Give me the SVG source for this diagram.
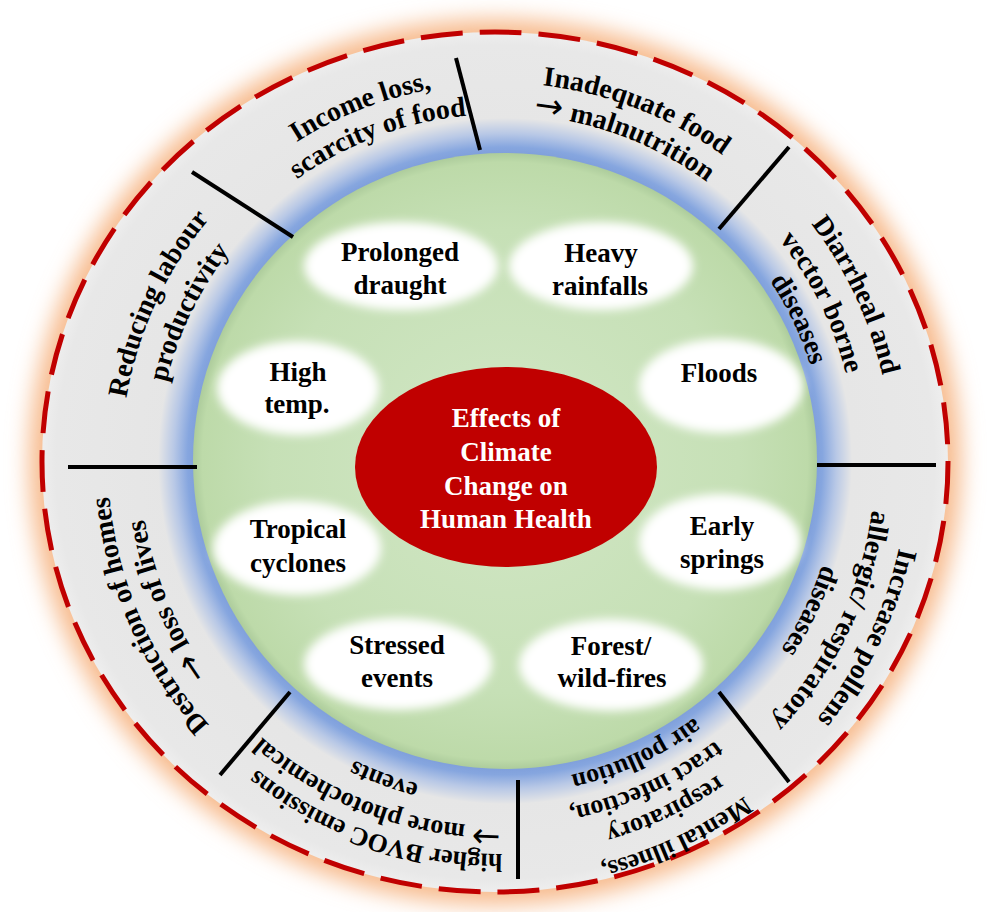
<svg xmlns="http://www.w3.org/2000/svg" width="992" height="912" viewBox="0 0 992 912">
  <style>
    .lbl { font-family: "Liberation Serif", "Times New Roman", serif; font-weight: bold; font-size: 27px; fill: #000; text-anchor: middle; }
    .ctr { fill: #fff; }
    .ring { font-family: "Liberation Serif", "Times New Roman", serif; font-weight: bold; font-size: 28px; fill: #000; }
    .ring.sm { font-size: 26px; }
    .arw { font-family: "DejaVu Sans", sans-serif; font-weight: normal; font-size: 34px; }
    .div { stroke: #000; stroke-width: 4; fill: none; }
    .bubble { fill: #fff; filter: url(#soft); }
  </style>
  <defs>
    <filter id="glow" x="-10%" y="-10%" width="120%" height="120%">
      <feGaussianBlur stdDeviation="11"/>
    </filter>
    <filter id="soft" x="-20%" y="-30%" width="140%" height="160%">
      <feGaussianBlur stdDeviation="5"/>
    </filter>
    <radialGradient id="blueBand" cx="0.5" cy="0.5" r="0.5">
      <stop offset="0.88" stop-color="#7a9ad8"/>
      <stop offset="0.915" stop-color="#86a6df"/>
      <stop offset="0.955" stop-color="#b8c8e6"/>
      <stop offset="1" stop-color="#e6e6e6"/>
    </radialGradient>
    <radialGradient id="greenDisc" cx="0.5" cy="0.5" r="0.5">
      <stop offset="0" stop-color="#d2e7c6"/>
      <stop offset="0.75" stop-color="#c6e0b6"/>
      <stop offset="0.97" stop-color="#bddaa9"/>
      <stop offset="1" stop-color="#adcc9c"/>
    </radialGradient>
    <radialGradient id="grayRing" cx="0.5" cy="0.5" r="0.5">
      <stop offset="0.7" stop-color="#e5e5e5"/>
      <stop offset="0.97" stop-color="#e8e8e8"/>
      <stop offset="1" stop-color="#eeeeee"/>
    </radialGradient>
    <!-- clockwise half-circle baselines; midpoint sits at the top (0,-r) -->
    <path id="r321" d="M -321 0 A 321 321 0 0 1 321 0"/>
    <path id="r325" d="M -325 0 A 325 325 0 0 1 325 0"/>
    <path id="r332" d="M -332 0 A 332 332 0 0 1 332 0"/>
    <path id="r338" d="M -338 0 A 338 338 0 0 1 338 0"/>
    <path id="r343" d="M -343 0 A 343 343 0 0 1 343 0"/>
    <path id="r348" d="M -348 0 A 348 348 0 0 1 348 0"/>
    <path id="r352" d="M -352 0 A 352 352 0 0 1 352 0"/>
    <path id="r357" d="M -357 0 A 357 357 0 0 1 357 0"/>
    <path id="r360" d="M -360 0 A 360 360 0 0 1 360 0"/>
    <path id="r364" d="M -364 0 A 364 364 0 0 1 364 0"/>
    <path id="r375" d="M -375 0 A 375 375 0 0 1 375 0"/>
    <path id="r379" d="M -379 0 A 379 379 0 0 1 379 0"/>
    <path id="r381" d="M -381 0 A 381 381 0 0 1 381 0"/>
    <path id="r392" d="M -392 0 A 392 392 0 0 1 392 0"/>
    <path id="r408" d="M -408 0 A 408 408 0 0 1 408 0"/>
    <path id="r414" d="M -414 0 A 414 414 0 0 1 414 0"/>
  </defs>

  <rect width="992" height="912" fill="#fff"/>

  <!-- outer ring: orange halo, grey band, dashed rim -->
  <g id="outer-ring">
    <ellipse cx="495" cy="462" rx="466" ry="443" fill="#f7bb8e" filter="url(#glow)"/>
    <ellipse cx="495" cy="462" rx="453" ry="430" fill="url(#grayRing)"/>
    <ellipse cx="495" cy="462" rx="453" ry="430" fill="none" stroke="#c00000" stroke-width="5" stroke-dasharray="42 17"/>
  </g>

  <!-- blue band and green disc -->
  <g id="inner-disc">
    <ellipse cx="505" cy="461" rx="347" ry="343" fill="url(#blueBand)"/>
    <ellipse cx="505" cy="461" rx="312" ry="308" fill="url(#greenDisc)"/>
  </g>

  <!-- sector dividers -->
  <g id="connectors">
    <line class="div" x1="293" y1="237" x2="192" y2="172"/>
    <line class="div" x1="480" y1="150" x2="456" y2="58"/>
    <line class="div" x1="719" y1="229" x2="789" y2="147"/>
    <line class="div" x1="817" y1="465" x2="936" y2="465"/>
    <line class="div" x1="719" y1="692" x2="789" y2="782"/>
    <line class="div" x1="518" y1="780" x2="518" y2="879"/>
    <line class="div" x1="290" y1="692" x2="220" y2="775"/>
    <line class="div" x1="68" y1="467" x2="197" y2="467"/>
  </g>

  <!-- climate events -->
  <g id="prolonged-draught">
    <ellipse class="bubble" cx="401" cy="266" rx="97" ry="44"/>
    <text class="lbl" x="400" y="261">Prolonged</text>
    <text class="lbl" x="400" y="294">draught</text>
  </g>
  <g id="heavy-rainfalls">
    <ellipse class="bubble" cx="601" cy="266" rx="92" ry="44"/>
    <text class="lbl" x="601" y="262">Heavy</text>
    <text class="lbl" x="600" y="295">rainfalls</text>
  </g>
  <g id="high-temp">
    <ellipse class="bubble" cx="298" cy="388" rx="81" ry="47"/>
    <text class="lbl" x="298" y="381">High</text>
    <text class="lbl" x="297" y="413">temp.</text>
  </g>
  <g id="floods">
    <ellipse class="bubble" cx="721" cy="386" rx="82" ry="47"/>
    <text class="lbl" x="719" y="382">Floods</text>
  </g>
  <g id="tropical-cyclones">
    <ellipse class="bubble" cx="297" cy="548" rx="84" ry="47"/>
    <text class="lbl" x="298" y="538">Tropical</text>
    <text class="lbl" x="298" y="572">cyclones</text>
  </g>
  <g id="early-springs">
    <ellipse class="bubble" cx="720" cy="542" rx="81" ry="48"/>
    <text class="lbl" x="722" y="535">Early</text>
    <text class="lbl" x="722" y="568">springs</text>
  </g>
  <g id="stressed-events">
    <ellipse class="bubble" cx="398" cy="664" rx="94" ry="46"/>
    <text class="lbl" x="397" y="654">Stressed</text>
    <text class="lbl" x="397" y="687">events</text>
  </g>
  <g id="forest-wild-fires">
    <ellipse class="bubble" cx="611" cy="665" rx="92" ry="46"/>
    <text class="lbl" x="611" y="655">Forest/</text>
    <text class="lbl" x="612" y="687">wild-fires</text>
  </g>

  <!-- central topic -->
  <g id="center">
    <ellipse cx="506" cy="467" rx="151" ry="100" fill="#c00000"/>
    <text class="lbl ctr" x="506" y="427">Effects of</text>
    <text class="lbl ctr" x="506" y="461">Climate</text>
    <text class="lbl ctr" x="506" y="495">Change on</text>
    <text class="lbl ctr" x="506" y="528">Human Health</text>
  </g>

  <!-- health effects set on arcs round the ring -->
  <g id="income-loss" transform="translate(500 462)">
    <text class="ring" transform="rotate(-21.4)"><textPath href="#r379" startOffset="50%" text-anchor="middle">Income loss,</textPath></text>
    <text class="ring" transform="rotate(-20.6)"><textPath href="#r348" startOffset="50%" text-anchor="middle">scarcity of food</textPath></text>
  </g>
  <g id="inadequate-food" transform="translate(500 462)">
    <text class="ring" transform="rotate(21.2)"><textPath href="#r379" startOffset="50%" text-anchor="middle">Inadequate food</textPath></text>
    <text class="ring" transform="rotate(21)"><textPath href="#r348" startOffset="50%" text-anchor="middle"><tspan class="arw">→</tspan> malnutrition</textPath></text>
  </g>
  <g id="diarrheal" transform="translate(500 462)">
    <text class="ring" transform="rotate(64.9)"><textPath href="#r392" startOffset="50%" text-anchor="middle">Diarrheal  and</textPath></text>
    <text class="ring" transform="rotate(63.6)"><textPath href="#r357" startOffset="50%" text-anchor="middle">vector borne</textPath></text>
    <text class="ring" transform="rotate(64.4)"><textPath href="#r325" startOffset="50%" text-anchor="middle">diseases</textPath></text>
  </g>
  <g id="increase-pollens" transform="translate(500 462)">
    <text class="ring" transform="rotate(115.6)"><textPath href="#r408" startOffset="50%" text-anchor="middle">Increase pollens</textPath></text>
    <text class="ring" transform="rotate(115.6)"><textPath href="#r375" startOffset="50%" text-anchor="middle">allergic/ respiratory</textPath></text>
    <text class="ring" transform="rotate(115.7)"><textPath href="#r338" startOffset="50%" text-anchor="middle">diseases</textPath></text>
  </g>
  <g id="mental-illness" transform="translate(500 462)">
    <text class="ring sm" transform="rotate(154.9)"><textPath href="#r414" startOffset="50%" text-anchor="middle">Mental illness,</textPath></text>
    <text class="ring sm" transform="rotate(154.6)"><textPath href="#r381" startOffset="50%" text-anchor="middle">respiratory</textPath></text>
    <text class="ring sm" transform="rotate(155.5)"><textPath href="#r352" startOffset="50%" text-anchor="middle">tract infection,</textPath></text>
    <text class="ring sm" transform="rotate(155)"><textPath href="#r321" startOffset="50%" text-anchor="middle">air pollution</textPath></text>
  </g>
  <g id="bvoc-emissions" transform="translate(500 462)">
    <text class="ring sm" transform="rotate(199)"><textPath href="#r392" startOffset="50%" text-anchor="middle">higher BVOC emissions</textPath></text>
    <text class="ring sm" transform="rotate(200.4)"><textPath href="#r364" startOffset="50%" text-anchor="middle"><tspan class="arw">→</tspan> more photochemical</textPath></text>
    <text class="ring sm" transform="rotate(200.1)"><textPath href="#r332" startOffset="50%" text-anchor="middle">events</textPath></text>
  </g>
  <g id="destruction-of-homes" transform="translate(500 462)">
    <text class="ring" transform="rotate(246.4)"><textPath href="#r392" startOffset="50%" text-anchor="middle">Destruction of homes</textPath></text>
    <text class="ring" transform="rotate(247.4)"><textPath href="#r360" startOffset="50%" text-anchor="middle"><tspan class="arw">→</tspan> loss of lives</textPath></text>
  </g>
  <g id="labour-productivity" transform="translate(500 462)">
    <text class="ring" transform="rotate(-65.2)"><textPath href="#r379" startOffset="50%" text-anchor="middle">Reducing labour</textPath></text>
    <text class="ring" transform="rotate(-64.3)"><textPath href="#r343" startOffset="50%" text-anchor="middle">productivity</textPath></text>
  </g>
</svg>
